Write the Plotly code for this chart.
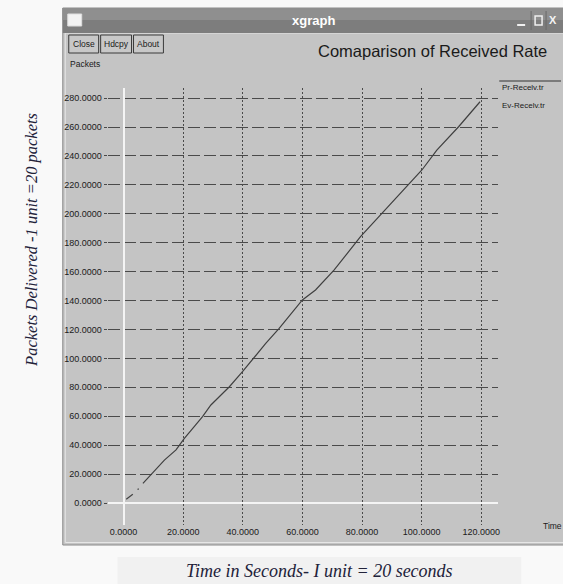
import plotly.graph_objects as go

W, H = 563, 584

# ---- data ----
time_units = [0.9, 3.1, None, 4.7, 5.1, None, 6.5, 10.4, 13.7, 17.6, 20.4, 23.7, 26.5, 29.3, 35.5,
              39.9, 47.7, 52.2, 60.0, 64.4, 70.6, 79.5, 86.7, 95.7, 100.1, 105.1, 112.4, 119.6]
packets = [2.6, 6.0, None, 9.3, 9.9, None, 13.6, 22.4, 29.7, 36.7, 44.7, 52.8, 59.7, 67.8, 80.4,
           90.8, 110.4, 120.8, 140.4, 147.3, 161.0, 184.2, 200.3, 221.0, 230.3, 244.0, 260.2, 277.5]
x_ticks = [0, 20, 40, 60, 80, 100, 120]
y_ticks = [0, 20, 40, 60, 80, 100, 120, 140, 160, 180, 200, 220, 240, 260, 280]
legend_names = ["Pr-Recelv.tr", "Ev-Recelv.tr"]


def px(x):
    return x / W


def py(y):
    return 1 - y / H


WIN = "#c4c4c4"
GRID = "#4a4a4a"
TXT = "#1a1a1a"

fig = go.Figure()
fig.add_trace(go.Scatter(x=time_units, y=packets, mode="lines",
                         line=dict(color="#404040", width=1.2),
                         connectgaps=False, showlegend=False, hoverinfo="skip"))

shapes = []
# window body
shapes.append(dict(type="rect", xref="paper", yref="paper", x0=px(63), x1=px(566), y0=py(545), y1=py(8),
                   fillcolor=WIN, line=dict(color="#8a8a8a", width=1), layer="below"))
# inner light border
shapes.append(dict(type="rect", xref="paper", yref="paper", x0=px(65.5), x1=px(566), y0=py(542.5), y1=py(33),
                   fillcolor="rgba(0,0,0,0)", line=dict(color="#e6e6e6", width=1), layer="below"))
# title bar
shapes.append(dict(type="rect", xref="paper", yref="paper", x0=px(63), x1=px(566), y0=py(33), y1=py(8),
                   fillcolor="#7d7d7d", line=dict(width=0), layer="below"))
shapes.append(dict(type="rect", xref="paper", yref="paper", x0=px(63), x1=px(566), y0=py(20), y1=py(8),
                   fillcolor="#8f8f8f", line=dict(width=0), layer="below"))
# window icon
shapes.append(dict(type="rect", xref="paper", yref="paper", x0=px(68), x1=px(82), y0=py(26), y1=py(14),
                   fillcolor="#f2f2f2", line=dict(color="#dddddd", width=1), layer="below"))
# right corner buttons separators
for x0 in [533, 548]:
    shapes.append(dict(type="line", xref="paper", yref="paper", x0=px(x0), x1=px(x0), y0=py(30), y1=py(11),
                       line=dict(color="#6a6a6a", width=1), layer="below"))
shapes.append(dict(type="line", xref="paper", yref="paper", x0=px(519), x1=px(527), y0=py(25), y1=py(25),
                   line=dict(color="#f0f0f0", width=2), layer="below"))
shapes.append(dict(type="rect", xref="paper", yref="paper", x0=px(537), x1=px(544), y0=py(25), y1=py(16),
                   fillcolor="rgba(0,0,0,0)", line=dict(color="#f0f0f0", width=1.5), layer="below"))
# buttons
for x0, x1 in [(69, 99), (101, 132), (134, 164)]:
    shapes.append(dict(type="rect", xref="paper", yref="paper", x0=px(x0), x1=px(x1), y0=py(53), y1=py(35),
                       fillcolor="#c8c8c8", line=dict(color="#3a3a3a", width=1), layer="below"))
# legend line
shapes.append(dict(type="line", xref="paper", yref="paper", x0=px(501), x1=px(563), y0=py(81), y1=py(81),
                   line=dict(color="#333333", width=1), layer="below"))
# bottom caption box
shapes.append(dict(type="rect", xref="paper", yref="paper", x0=px(118), x1=px(523), y0=py(584), y1=py(557),
                   fillcolor="#f1f1f1", line=dict(width=0), layer="below"))

ann = []


def text(x, y, s, size=9, color=TXT, family="Liberation Sans, Arial", xanchor="left", **kw):
    ann.append(dict(x=px(x), y=py(y), xref="paper", yref="paper", text=s, showarrow=False,
                    font=dict(size=size, color=color, family=family), xanchor=xanchor,
                    yanchor="middle", **kw))


text(315, 20, "<b>xgraph</b>", size=13, color="#ffffff", xanchor="center")
text(555, 20, "<b>X</b>", size=11, color="#f4f4f4", xanchor="center")
text(84, 44, "Close", size=8.5, xanchor="center")
text(116.5, 44, "Hdcpy", size=8.5, xanchor="center")
text(149, 44, "About", size=8.5, xanchor="center")
text(434, 51, "Comaparison of Received Rate", size=16.5, xanchor="center")
text(68, 64, "Packets", size=8.5)
text(502, 88, legend_names[0], size=8)
text(502, 105, legend_names[1], size=8)
text(543, 526, "Time", size=8.5)
text(321, 571, "<i>Time in Seconds- I unit = 20 seconds</i>", size=18, color="#22223a",
     family="Liberation Serif, Times New Roman, serif", xanchor="center")
ann.append(dict(x=px(31), y=py(240), xref="paper", yref="paper",
                text="<i>Packets Delivered -1 unit =20 packets</i>", showarrow=False, textangle=-90,
                font=dict(size=16.5, color="#22223a", family="Liberation Serif, Times New Roman, serif"),
                xanchor="center", yanchor="middle"))

fig.update_layout(
    width=W, height=H,
    margin=dict(l=0, r=0, t=0, b=0),
    paper_bgcolor="#f9f9f9",
    plot_bgcolor=WIN,
    shapes=shapes,
    annotations=ann,
    showlegend=False,
    xaxis=dict(domain=[px(108), px(500)], range=[-5.35, 125.7], tickvals=x_ticks, tickformat=".4f",
               showgrid=True, gridcolor=GRID, griddash="2px,2px", gridwidth=1,
               zeroline=True, zerolinecolor="#f4f4f4", zerolinewidth=2,
               showline=False, ticks="", ticklabelstandoff=0,
               tickfont=dict(size=9, color=TXT, family="Liberation Sans, Arial"), fixedrange=True),
    yaxis=dict(domain=[py(525), py(88)], range=[-15.2, 287], tickvals=y_ticks, tickformat=".4f",
               showgrid=True, gridcolor=GRID, griddash="12px,4px", gridwidth=1,
               zeroline=True, zerolinecolor="#f4f4f4", zerolinewidth=2,
               showline=False, ticks="outside", ticklen=3, tickcolor=GRID, ticklabelstandoff=0,
               tickfont=dict(size=9, color=TXT, family="Liberation Sans, Arial"), fixedrange=True),
)

fig.write_html("out.html", config={"displayModeBar": False},
               post_script="document.body.style.margin='0';document.body.style.overflow='hidden';")
